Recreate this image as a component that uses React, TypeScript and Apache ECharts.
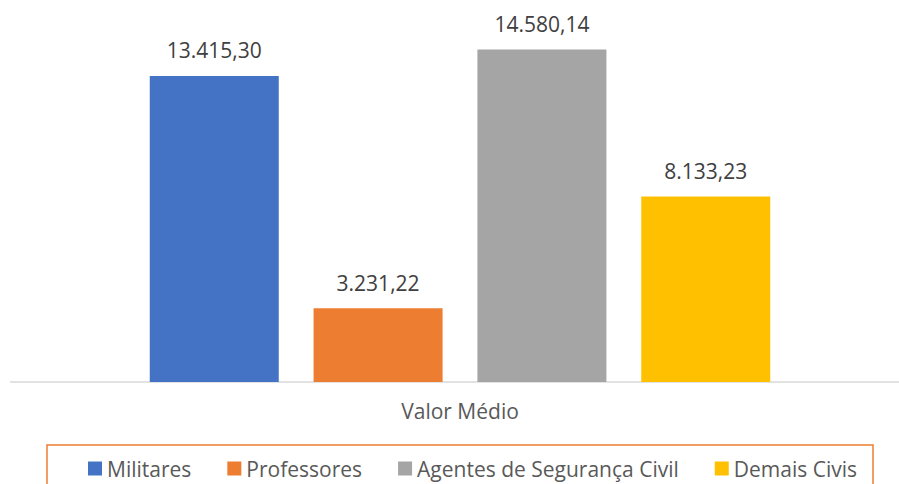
import React, { useEffect, useRef } from "react";
import * as echarts from "echarts";

const categories = ["Valor Médio"];
const seriesNames = ["Militares", "Professores", "Agentes de Segurança Civil", "Demais Civis"];
const seriesValues = [13415.3, 3231.22, 14580.14, 8133.23];
const seriesColors = ["#4472C4", "#ED7D31", "#A5A5A5", "#FFC000"];

const FONT = "'Open Sans', sans-serif";

function fmtBR(v: number): string {
  const fixed = v.toFixed(2);
  const [intPart, dec] = fixed.split(".");
  const withDots = intPart.replace(/\B(?=(\d{3})+(?!\d))/g, ".");
  return withDots + "," + dec;
}

export default function App() {
  const ref = useRef<HTMLDivElement>(null);
  useEffect(() => {
    if (!ref.current) return;
    const chart = echarts.init(ref.current, undefined, { renderer: "svg" });
    chart.setOption({
      animation: false,
      backgroundColor: "#ffffff",
      grid: { left: 21, right: 0, top: 17, bottom: 102, containLabel: false },
      xAxis: {
        type: "category",
        data: categories,
        axisLine: { show: false },
        axisTick: { show: false },
        axisLabel: { color: "#595959", fontFamily: FONT, fontSize: 21, margin: 18 },
      },
      yAxis: {
        type: "value",
        min: 0,
        max: 16000,
        show: false,
        splitLine: { show: false },
      },
      legend: {
        left: 83,
        top: 453,
        itemWidth: 14,
        itemHeight: 14,
        itemGap: 36,
        icon: "rect",
        textStyle: { color: "#595959", fontFamily: FONT, fontSize: 21, padding: [0, 0, 0, 0] },
        data: seriesNames,
      },
      graphic: [
        {
          type: "line",
          shape: { x1: 10, y1: 382, x2: 899, y2: 382 },
          style: { stroke: "#D9D9D9", lineWidth: 1.5 },
          silent: true,
        },
        {
          type: "rect",
          shape: { x: 47, y: 445, width: 826, height: 60 },
          style: { fill: "none", stroke: "#ED7D31", lineWidth: 1.5 },
          silent: true,
        },
      ],
      series: seriesNames.map((name, i) => ({
        name,
        type: "bar",
        data: [seriesValues[i]],
        barWidth: 129,
        barGap: "27%",
        itemStyle: { color: seriesColors[i] },
        label: {
          show: true,
          position: "top",
          distance: 15,
          color: "#404040",
          fontFamily: FONT,
          fontSize: 21,
          formatter: (p: any) => fmtBR(p.value),
        },
      })),
    });
    return () => chart.dispose();
  }, []);
  return <div ref={ref} style={{ width: 899, height: 484, position: "absolute", left: 0, top: 0 }} />;
}
